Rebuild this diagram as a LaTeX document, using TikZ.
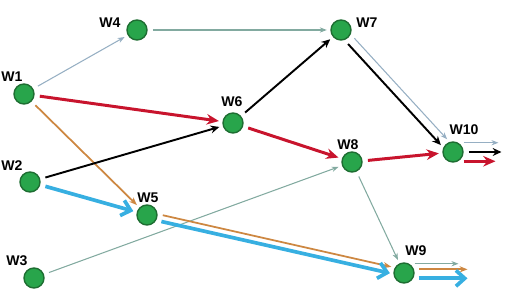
\documentclass[tikz,border=0pt]{standalone}
\usepackage{fontspec}
\newfontfamily\lblfont{Liberation Sans}
\usetikzlibrary{arrows.meta}

\definecolor{nodegreen}{RGB}{40,165,75}
\definecolor{nodeborder}{RGB}{30,110,50}
\definecolor{edgered}{RGB}{200,20,45}
\definecolor{edgeblue}{RGB}{55,175,225}
\definecolor{edgeorange}{RGB}{205,135,65}
\definecolor{edgelite}{RGB}{150,175,195}
\definecolor{edgeteal}{RGB}{130,170,160}

\begin{document}
\begin{tikzpicture}[x=0.02cm, y=-0.02cm, >=Stealth,
    wnode/.style={circle, fill=nodegreen, draw=nodeborder, line width=0.8pt, minimum size=0.4cm, inner sep=0pt},
    lbl/.style={font=\lblfont\bfseries\fontsize{8}{9}\selectfont, inner sep=0pt},
    gap/.style={shorten <=3pt, shorten >=2pt},
    redline/.style={gap, draw=edgered, line width=1.7pt, -{Stealth[length=7pt,width=6pt]}},
    blueline/.style={gap, draw=edgeblue, line width=2.1pt, -{Straight Barb[length=5pt,width=9pt]}},
    blackline/.style={gap, draw=black, line width=1.1pt, -{Stealth[length=5pt,width=4.5pt]}},
    orangeline/.style={gap, draw=edgeorange, line width=1pt, -{Stealth[length=4.5pt,width=3.5pt]}},
    liteline/.style={gap, draw=edgelite, line width=0.6pt, -{Stealth[length=4pt,width=3pt]}},
    tealline/.style={gap, draw=edgeteal, line width=0.6pt, -{Stealth[length=4pt,width=3pt]}}]

    \useasboundingbox (0,0) rectangle (528,306);

    % nodes
    \node[wnode] (w1) at (24,94) {};
    \node[wnode] (w2) at (30,182) {};
    \node[wnode] (w3) at (34,278) {};
    \node[wnode] (w4) at (137,30) {};
    \node[wnode] (w5) at (147,215) {};
    \node[wnode] (w6) at (233,123) {};
    \node[wnode] (w7) at (341,30) {};
    \node[wnode] (w8) at (352,162) {};
    \node[wnode] (w9) at (404,273) {};
    \node[wnode] (w10) at (453,152) {};

    % labels
    \node[lbl] (w1l) at (12,77) {W1};
    \node[lbl] (w2l) at (12,166) {W2};
    \node[lbl] (w3l) at (17,261) {W3};
    \node[lbl] (w4l) at (110,23) {W4};
    \node[lbl] (w5l) at (148,198) {W5};
    \node[lbl] (w6l) at (232,102) {W6};
    \node[lbl] (w7l) at (367,23) {W7};
    \node[lbl] (w8l) at (348,145) {W8};
    \node[lbl] (w9l) at (416,251) {W9};
    \node[lbl] (w10l) at (464,130) {W10};

    % free ends of the outgoing arrows
    \coordinate (w10a) at (502,143);
    \coordinate (w10b) at (505,152);
    \coordinate (w10c) at (499,162);
    \coordinate (w9a) at (462,263);
    \coordinate (w9b) at (471,269);
    \coordinate (w9c) at (471,278);

    % edges
    \draw[liteline] (w1) -- (w4);
    \draw[redline] (w1) -- (w6);
    \draw[orangeline] (w1) -- (w5);
    \draw[blackline] (w2) -- (w6);
    \draw[blueline] (w2) -- (w5);
    \draw[tealline] (w3) -- (w8);
    \draw[tealline] (w4) -- (w7);
    \draw[blackline] (w6) -- (w7);
    \draw[redline] (w6) -- (w8);
    \draw[blackline] (w7.289) -- (w10.156);
    \draw[liteline] (w7.336) -- (w10.109);
    \draw[redline] (w8) -- (w10);
    \draw[tealline] (w8) -- (w9);
    \draw[orangeline] (w5.5) -- (w9.150);
    \draw[blueline] (w5.-30) -- (w9.185);

    % outgoing
    \draw[liteline] (w10.60) -- (w10.60 -| w10a);
    \draw[blackline] (w10.0) -- (w10.0 -| w10b);
    \draw[redline] (w10.-60) -- (w10.-60 -| w10c);
    \draw[tealline] (w9.60) -- (w9.60 -| w9a);
    \draw[orangeline] (w9.20) -- (w9.20 -| w9b);
    \draw[blueline] (w9.-30) -- (w9.-30 -| w9c);

\end{tikzpicture}
\end{document}
